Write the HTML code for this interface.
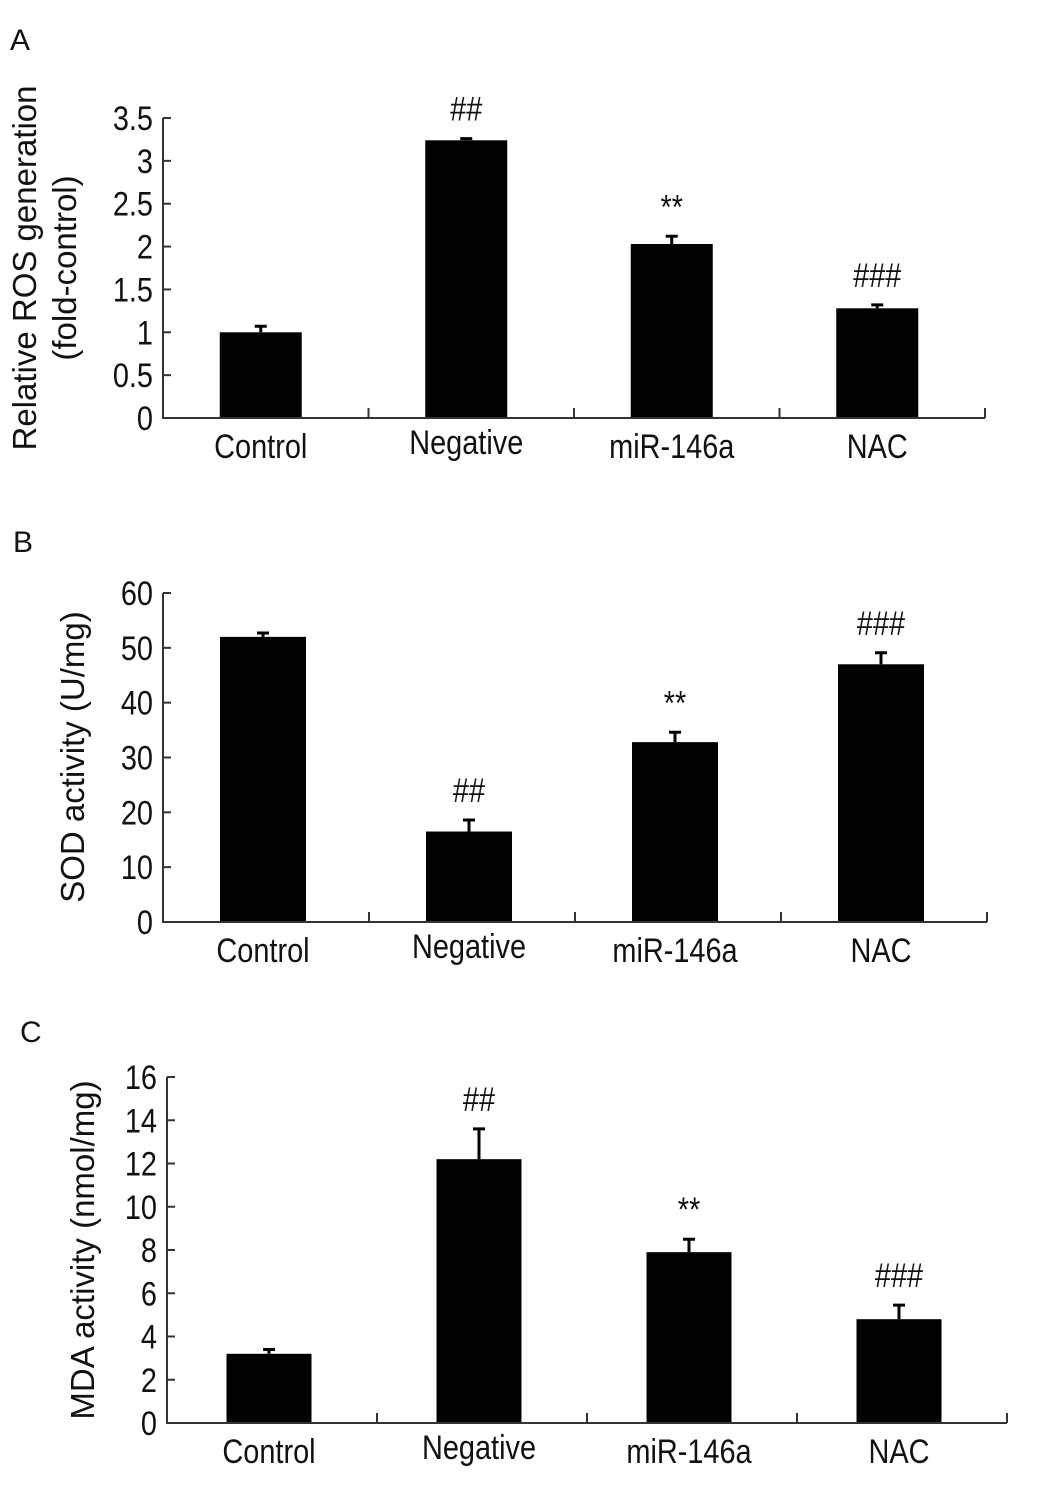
<!DOCTYPE html>
<html><head><meta charset="utf-8"><style>
html,body{margin:0;padding:0;background:#fff;}
svg{display:block;font-family:"Liberation Sans",Arial,sans-serif;}
</style></head><body>
<svg id="fig" width="1044" height="1494" viewBox="0 0 1044 1494" xmlns="http://www.w3.org/2000/svg"></svg>
<script>
const categories = ["Control","Negative","miR-146a","NAC"];
const rosValues = [1.0, 3.24, 2.03, 1.28];
const rosErrors = [0.07, 0.02, 0.09, 0.04];
const rosMarks = ["", "##", "**", "###"];
const rosTicks = ["0","0.5","1","1.5","2","2.5","3","3.5"];
const sodValues = [52, 16.5, 32.8, 47];
const sodErrors = [0.7, 2.1, 1.8, 2.1];
const sodMarks = ["", "##", "**", "###"];
const sodTicks = ["0","10","20","30","40","50","60"];
const mdaValues = [3.2, 12.2, 7.9, 4.8];
const mdaErrors = [0.2, 1.4, 0.6, 0.65];
const mdaMarks = ["", "##", "**", "###"];
const mdaTicks = ["0","2","4","6","8","10","12","14","16"];

const NS = "http://www.w3.org/2000/svg";
const svg = document.getElementById("fig");
function mk(tag, attrs, parent){
  const e = document.createElementNS(NS, tag);
  for (const k in attrs) e.setAttribute(k, attrs[k]);
  (parent||svg).appendChild(e);
  return e;
}
function txt(s, x, y, size, anchor, parent, sx){
  const t = mk("text", {transform:`translate(${x},${y}) scale(${sx||0.85},1)`, "font-size":size, "text-anchor":anchor||"middle", fill:"#111"}, parent);
  t.textContent = s;
  return t;
}

function panel(cfg){
  const g = mk("g", {});
  
  
  const {x0,x1,yTop,yBot,max} = cfg;
  const ys = v => yBot - (v/max)*(yBot-yTop);
  const step = (x1-x0)/categories.length;
  const xc = i => x0 + step*(i+0.5) + cfg.shift;
  const L = txt(cfg.letter, cfg.lx, cfg.ly, 30, "start", g, 1);
  
  
  categories.forEach((c,i)=>{
    const v = cfg.values[i], e = cfg.errors[i];
    const r = mk("rect", {x:xc(i)-cfg.bw/2, y:ys(v), width:cfg.bw, height:yBot-ys(v), fill:"#000"}, g);
    
    
    const eb = mk("path", {d:`M${xc(i)},${ys(v)} V${ys(v+e)} M${xc(i)-6},${ys(v+e)} H${xc(i)+6}`, stroke:"#000", "stroke-width":3, fill:"none"}, g);
    
    
    if (cfg.marks[i]) {
      const m = txt(cfg.marks[i], xc(i), ys(v+e)-cfg.markGap, 34, "middle", g);
      
      
    }
    const l = txt(c, xc(i), yBot+cfg.labGap + (i==1?-4:0), 34, "middle", g);
    
    
  });
  const ax = mk("path", {d:`M${x0},${yTop} V${yBot} H${x1}`, stroke:"#333", "stroke-width":2, fill:"none"}, g);
  
  
  for (let i=1;i<=categories.length;i++){
    const tx = x0+step*i;
    mk("line", {x1:tx, x2:tx, y1:yBot, y2:yBot-10, stroke:"#333", "stroke-width":2}, g);
  }
  cfg.ticks.forEach(t=>{
    const y = ys(parseFloat(t));
    mk("line", {x1:x0, x2:x0+8, y1:y, y2:y, stroke:"#333", "stroke-width":2}, g);
    const tl = txt(t, x0-10, y+12, 34, "end", g);
    
    
  });
  cfg.ylabel.forEach((s,k)=>{
    const t = mk("text", {transform:`translate(${cfg.ylx[k]},${cfg.yly}) rotate(-90)`, "font-size":cfg.ysize, "text-anchor":"middle", fill:"#111"}, g);
    t.textContent = s;
    
    
  });
}

panel({name:"panel-a-ros", letter:"A", lx:10, ly:50, x0:163, x1:985, yTop:118, yBot:418, max:3.5,
  values:rosValues, errors:rosErrors, marks:rosMarks, ticks:rosTicks, bw:82, shift:-5, markGap:18, labGap:40,
  ylabel:["Relative ROS generation","(fold-control)"], ylx:[36,76], yly:268, ysize:33});
panel({name:"panel-b-sod", letter:"B", lx:13, ly:552, x0:163, x1:987, yTop:593, yBot:922, max:60,
  values:sodValues, errors:sodErrors, marks:sodMarks, ticks:sodTicks, bw:86, shift:-3, markGap:18, labGap:40,
  ylabel:["SOD activity (U/mg)"], ylx:[84], yly:757, ysize:33});
panel({name:"panel-c-mda", letter:"C", lx:20, ly:1042, x0:167, x1:1007, yTop:1077, yBot:1423, max:16,
  values:mdaValues, errors:mdaErrors, marks:mdaMarks, ticks:mdaTicks, bw:85, shift:-3, markGap:18, labGap:40,
  ylabel:["MDA activity (nmol/mg)"], ylx:[94], yly:1250, ysize:33});
</script>
</body></html>
